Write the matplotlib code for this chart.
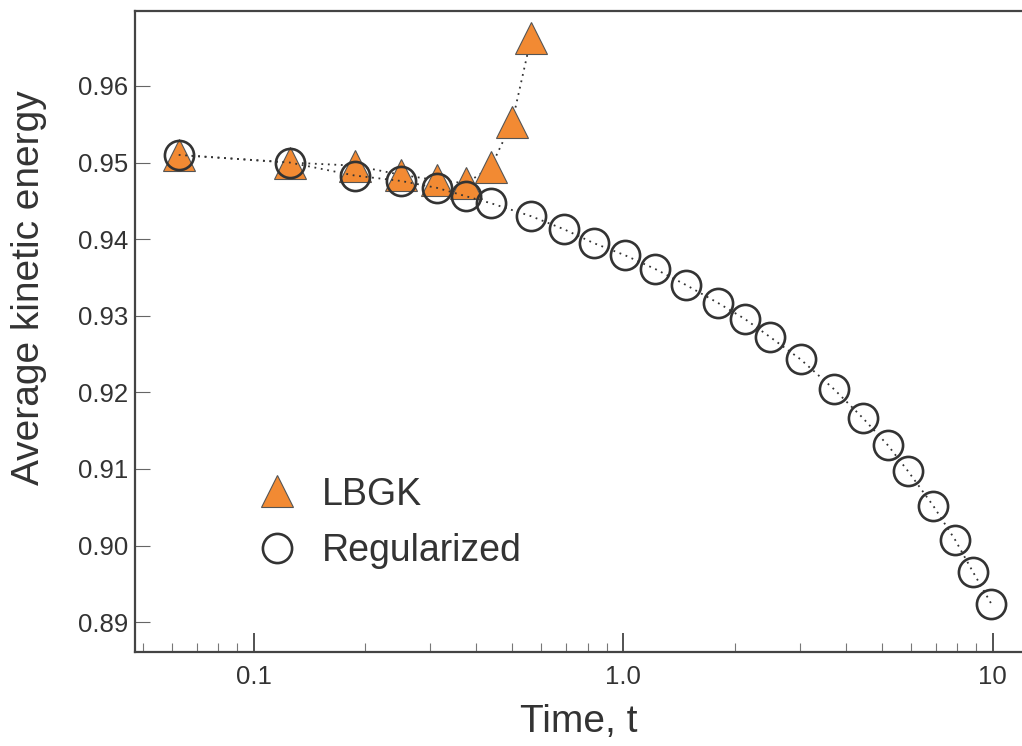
import numpy as np
import matplotlib
matplotlib.use('Agg')
from matplotlib import pyplot as plt
from matplotlib.ticker import LogLocator, FixedLocator, FixedFormatter, NullFormatter

plt.rcParams['font.family'] = ['Liberation Sans', 'DejaVu Sans']

# LBGK run (blows up after t ~ 0.5)
t_lbgk = [0.0625, 0.125, 0.1875, 0.25, 0.3125, 0.375, 0.4375, 0.5, 0.5625]
e_lbgk = [0.9510, 0.9500, 0.9496, 0.9484, 0.9477, 0.9473, 0.9494, 0.9553, 0.9663]

# regularized run
t_reg = [0.0625, 0.125, 0.1875, 0.25, 0.3125, 0.375, 0.4375, 0.5625, 0.69, 0.83,
         1.01, 1.22, 1.48, 1.80, 2.13, 2.50, 3.02, 3.72, 4.44, 5.20,
         5.90, 6.90, 7.92, 8.83, 9.91]
e_reg = [0.9510, 0.9500, 0.9483, 0.9476, 0.9467, 0.9456, 0.9447, 0.9430, 0.9413, 0.9395,
         0.9379, 0.9361, 0.9340, 0.9317, 0.9296, 0.9272, 0.9243, 0.9204, 0.9167, 0.9131,
         0.9097, 0.9052, 0.9007, 0.8966, 0.8924]

yticks = [0.89, 0.90, 0.91, 0.92, 0.93, 0.94, 0.95, 0.96]
ytick_labels = ['0.89', '0.90', '0.91', '0.92', '0.93', '0.94', '0.95', '0.96']
xticks = [0.1, 1.0, 10]
xtick_labels = ['0.1', '1.0', '10']

orange = '#f28a33'
dark = '#333333'
dots = (0, (1, 2.6))

fig = plt.figure(figsize=(10.22, 7.46), dpi=100)
ax = fig.add_axes([0.1321, 0.1260, 0.8679, 0.8593])

ax.plot(t_lbgk, e_lbgk, linestyle=dots, color=dark, lw=1.3, marker='^', ms=23,
        markerfacecolor=orange, markeredgecolor='#555555', markeredgewidth=0.8,
        label='LBGK', zorder=2)
ax.plot(t_reg, e_reg, linestyle=dots, color=dark, lw=1.3, marker='o', ms=21,
        markerfacecolor='none', markeredgecolor=dark, markeredgewidth=1.9,
        label='Regularized', zorder=3)

ax.set_xscale('log')
ax.set_xlim(0.0476, 12.0)
ax.set_ylim(0.88611, 0.96979)

ax.xaxis.set_major_locator(FixedLocator(xticks))
ax.xaxis.set_major_formatter(FixedFormatter(xtick_labels))
ax.xaxis.set_minor_locator(LogLocator(base=10, subs=np.arange(2, 10) * 1.0))
ax.xaxis.set_minor_formatter(NullFormatter())
ax.yaxis.set_major_locator(FixedLocator(yticks))
ax.yaxis.set_major_formatter(FixedFormatter(ytick_labels))

ax.tick_params(axis='x', which='major', direction='in', length=14, width=1.3,
               color='#444444', labelsize=18.5, labelcolor=dark, pad=9)
ax.tick_params(axis='x', which='minor', direction='in', length=6.5, width=0.8,
               color='#777777')
ax.tick_params(axis='y', which='major', direction='in', length=11, width=0.8,
               color='#666666', labelsize=18.5, labelcolor=dark, pad=5)

for side in ['left', 'bottom', 'top']:
    ax.spines[side].set_color('#444444')
    ax.spines[side].set_linewidth(1.6)
ax.spines['right'].set_visible(False)

ax.set_xlabel('Time, t', fontsize=28, color=dark, labelpad=11)
ax.set_ylabel('Average kinetic energy', fontsize=28, color=dark,
              va='center', ha='center')
ax.yaxis.set_label_coords(-0.1195, 0.568)

leg = ax.legend(loc='upper left', bbox_to_anchor=(0.13, 0.297), frameon=False,
                fontsize=27, labelcolor=dark, handlelength=0.6, handletextpad=0.9,
                labelspacing=0.55, borderaxespad=0.0)
for h in leg.legend_handles:
    h.set_linestyle('none')

fig.savefig('out.png', dpi=100)
